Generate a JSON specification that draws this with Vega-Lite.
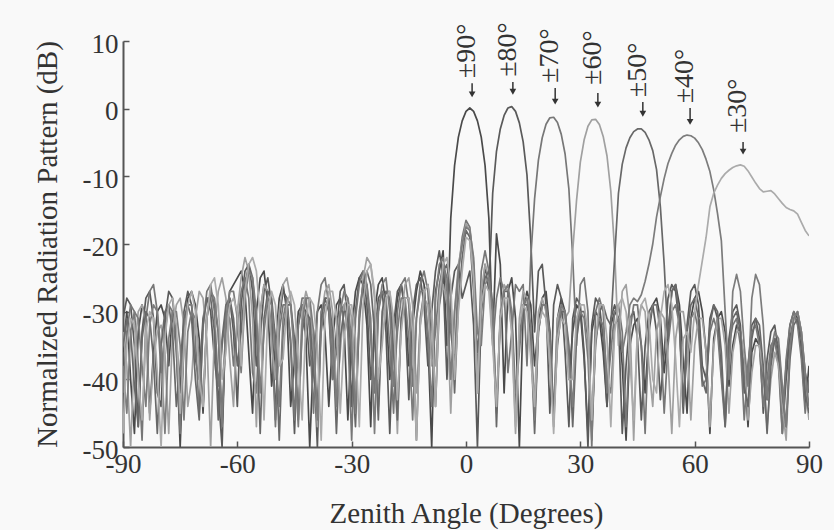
{
"$schema":"https://vega.github.io/schema/vega-lite/v6.json",
"width":686,"height":406,
"autosize":"none",
"padding":{"left":123,"top":41,"right":25,"bottom":83},
"background":"#f9f9f9",
"config":{"view":{"stroke":null},"font":"Liberation Serif, Times New Roman, DejaVu Serif, serif"},
"datasets":{
"lab":[
{"t":"±90°","x":1.6,"tx":0.3,"ty":4.5,"at":3.77,"ab":2.3,"ah":2.1},
{"t":"±80°","x":12.3,"tx":11.0,"ty":4.7,"at":3.95,"ab":2.7,"ah":2.5},
{"t":"±70°","x":23.4,"tx":22.1,"ty":3.8,"at":3.06,"ab":1.3,"ah":1.05},
{"t":"±60°","x":34.6,"tx":33.3,"ty":3.5,"at":2.32,"ab":0.8,"ah":0.6},
{"t":"±50°","x":46.4,"tx":45.1,"ty":1.7,"at":0.99,"ab":-0.5,"ah":-0.75},
{"t":"±40°","x":58.8,"tx":57.5,"ty":0.8,"at":0.1,"ab":-1.7,"ah":-1.95},
{"t":"±30°","x":72.7,"tx":71.4,"ty":-3.6,"at":-4.92,"ab":-6.1,"ah":-6.35}
],
"pat":[
{"s":"a","x":-90,"y":-36},{"s":"a","x":-89,"y":-30},{"s":"a","x":-88,"y":-40},{"s":"a","x":-87,"y":-48},{"s":"a","x":-86,"y":-33},{"s":"a","x":-85,"y":-29},{"s":"a","x":-84,"y":-31},{"s":"a","x":-83,"y":-45},{"s":"a","x":-82,"y":-36},{"s":"a","x":-81,"y":-30},
{"s":"a","x":-80,"y":-29},{"s":"a","x":-79,"y":-31},{"s":"a","x":-78,"y":-38},{"s":"a","x":-77,"y":-30},{"s":"a","x":-76,"y":-35},{"s":"a","x":-75,"y":-50},{"s":"a","x":-74,"y":-34},{"s":"a","x":-73,"y":-28},{"s":"a","x":-72,"y":-27},{"s":"a","x":-71,"y":-29},
{"s":"a","x":-70,"y":-34},{"s":"a","x":-69,"y":-45},{"s":"a","x":-68,"y":-31},{"s":"a","x":-67,"y":-27},{"s":"a","x":-66,"y":-29},{"s":"a","x":-65,"y":-33},{"s":"a","x":-64,"y":-47},{"s":"a","x":-63,"y":-32},{"s":"a","x":-62,"y":-27},{"s":"a","x":-61,"y":-26},
{"s":"a","x":-60,"y":-25},{"s":"a","x":-59,"y":-24},{"s":"a","x":-58,"y":-27},{"s":"a","x":-57,"y":-36},{"s":"a","x":-56,"y":-45},{"s":"a","x":-55,"y":-30},{"s":"a","x":-54,"y":-25},{"s":"a","x":-53,"y":-24},{"s":"a","x":-52,"y":-29},{"s":"a","x":-51,"y":-41},
{"s":"a","x":-50,"y":-35},{"s":"a","x":-49,"y":-28},{"s":"a","x":-48,"y":-26},{"s":"a","x":-47,"y":-30},{"s":"a","x":-46,"y":-44},{"s":"a","x":-45,"y":-37},{"s":"a","x":-44,"y":-30},{"s":"a","x":-43,"y":-29},{"s":"a","x":-42,"y":-34},{"s":"a","x":-41,"y":-50},
{"s":"a","x":-40,"y":-36},{"s":"a","x":-39,"y":-30},{"s":"a","x":-38,"y":-29},{"s":"a","x":-37,"y":-33},{"s":"a","x":-36,"y":-44},{"s":"a","x":-35,"y":-34},{"s":"a","x":-34,"y":-29},{"s":"a","x":-33,"y":-28},{"s":"a","x":-32,"y":-32},{"s":"a","x":-31,"y":-46},
{"s":"a","x":-30,"y":-33},{"s":"a","x":-29,"y":-27},{"s":"a","x":-28,"y":-25},{"s":"a","x":-27,"y":-26},{"s":"a","x":-26,"y":-32},{"s":"a","x":-25,"y":-47},{"s":"a","x":-24,"y":-30},{"s":"a","x":-23,"y":-26},{"s":"a","x":-22,"y":-25},{"s":"a","x":-21,"y":-29},
{"s":"a","x":-20,"y":-40},{"s":"a","x":-19,"y":-34},{"s":"a","x":-18,"y":-28},{"s":"a","x":-17,"y":-26},{"s":"a","x":-16,"y":-29},{"s":"a","x":-15,"y":-38},{"s":"a","x":-14,"y":-32},{"s":"a","x":-13,"y":-27},{"s":"a","x":-12,"y":-24},{"s":"a","x":-11,"y":-26},
{"s":"a","x":-10,"y":-34},{"s":"a","x":-9,"y":-50},{"s":"a","x":-8,"y":-27},{"s":"a","x":-7,"y":-24},{"s":"a","x":-6,"y":-21},{"s":"a","x":-5,"y":-35},{"s":"a","x":-4,"y":-16.2},{"s":"a","x":-3,"y":-8.4},{"s":"a","x":-2,"y":-4.2},{"s":"a","x":-1,"y":-1.8},
{"s":"a","x":0,"y":-0.4},{"s":"a","x":1,"y":0.1},{"s":"a","x":2,"y":-0.4},{"s":"a","x":3,"y":-1.8},{"s":"a","x":4,"y":-4.2},{"s":"a","x":5,"y":-8.4},{"s":"a","x":6,"y":-16.2},{"s":"a","x":7,"y":-34},{"s":"a","x":8,"y":-18.5},{"s":"a","x":9,"y":-23},
{"s":"a","x":10,"y":-42},{"s":"a","x":11,"y":-27},{"s":"a","x":12,"y":-25},{"s":"a","x":13,"y":-31},{"s":"a","x":14,"y":-50},{"s":"a","x":15,"y":-30},{"s":"a","x":16,"y":-27},{"s":"a","x":17,"y":-29},{"s":"a","x":18,"y":-38},{"s":"a","x":19,"y":-32},
{"s":"a","x":20,"y":-28},{"s":"a","x":21,"y":-27},{"s":"a","x":22,"y":-33},{"s":"a","x":23,"y":-46},{"s":"a","x":24,"y":-31},{"s":"a","x":25,"y":-28},{"s":"a","x":26,"y":-30},{"s":"a","x":27,"y":-40},{"s":"a","x":28,"y":-33},{"s":"a","x":29,"y":-29},
{"s":"a","x":30,"y":-30},{"s":"a","x":31,"y":-37},{"s":"a","x":32,"y":-48},{"s":"a","x":33,"y":-33},{"s":"a","x":34,"y":-30},{"s":"a","x":35,"y":-31},{"s":"a","x":36,"y":-36},{"s":"a","x":37,"y":-44},{"s":"a","x":38,"y":-32},{"s":"a","x":39,"y":-30},
{"s":"a","x":40,"y":-31},{"s":"a","x":41,"y":-38},{"s":"a","x":42,"y":-49},{"s":"a","x":43,"y":-35},{"s":"a","x":44,"y":-32},{"s":"a","x":45,"y":-31},{"s":"a","x":46,"y":-35},{"s":"a","x":47,"y":-42},{"s":"a","x":48,"y":-33},{"s":"a","x":49,"y":-29},
{"s":"a","x":50,"y":-28},{"s":"a","x":51,"y":-31},{"s":"a","x":52,"y":-39},{"s":"a","x":53,"y":-33},{"s":"a","x":54,"y":-27},{"s":"a","x":55,"y":-26},{"s":"a","x":56,"y":-29},{"s":"a","x":57,"y":-37},{"s":"a","x":58,"y":-45},{"s":"a","x":59,"y":-31},
{"s":"a","x":60,"y":-28},{"s":"a","x":61,"y":-27},{"s":"a","x":62,"y":-30},{"s":"a","x":63,"y":-36},{"s":"a","x":64,"y":-48},{"s":"a","x":65,"y":-34},{"s":"a","x":66,"y":-31},{"s":"a","x":67,"y":-30},{"s":"a","x":68,"y":-33},{"s":"a","x":69,"y":-41},
{"s":"a","x":70,"y":-35},{"s":"a","x":71,"y":-32},{"s":"a","x":72,"y":-33},{"s":"a","x":73,"y":-38},{"s":"a","x":74,"y":-47},{"s":"a","x":75,"y":-36},{"s":"a","x":76,"y":-34},{"s":"a","x":77,"y":-35},{"s":"a","x":78,"y":-40},{"s":"a","x":79,"y":-43},
{"s":"a","x":80,"y":-37},{"s":"a","x":81,"y":-34},{"s":"a","x":82,"y":-37},{"s":"a","x":83,"y":-45},{"s":"a","x":84,"y":-38},{"s":"a","x":85,"y":-32},{"s":"a","x":86,"y":-30},{"s":"a","x":87,"y":-31},{"s":"a","x":88,"y":-36},{"s":"a","x":89,"y":-44},{"s":"a","x":90,"y":-38},

{"s":"b","x":-90,"y":-31},{"s":"b","x":-89,"y":-28},{"s":"b","x":-88,"y":-29},{"s":"b","x":-87,"y":-35},{"s":"b","x":-86,"y":-47},{"s":"b","x":-85,"y":-33},{"s":"b","x":-84,"y":-28},{"s":"b","x":-83,"y":-27},{"s":"b","x":-82,"y":-31},{"s":"b","x":-81,"y":-42},
{"s":"b","x":-80,"y":-44},{"s":"b","x":-79,"y":-31},{"s":"b","x":-78,"y":-27},{"s":"b","x":-77,"y":-28},{"s":"b","x":-76,"y":-34},{"s":"b","x":-75,"y":-42},{"s":"b","x":-74,"y":-30},{"s":"b","x":-73,"y":-27},{"s":"b","x":-72,"y":-29},{"s":"b","x":-71,"y":-37},
{"s":"b","x":-70,"y":-40},{"s":"b","x":-69,"y":-31},{"s":"b","x":-68,"y":-28},{"s":"b","x":-67,"y":-30},{"s":"b","x":-66,"y":-37},{"s":"b","x":-65,"y":-42},{"s":"b","x":-64,"y":-50},{"s":"b","x":-63,"y":-30},{"s":"b","x":-62,"y":-28},{"s":"b","x":-61,"y":-33},
{"s":"b","x":-60,"y":-44},{"s":"b","x":-59,"y":-29},{"s":"b","x":-58,"y":-24},{"s":"b","x":-57,"y":-23},{"s":"b","x":-56,"y":-27},{"s":"b","x":-55,"y":-38},{"s":"b","x":-54,"y":-34},{"s":"b","x":-53,"y":-27},{"s":"b","x":-52,"y":-25},{"s":"b","x":-51,"y":-29},
{"s":"b","x":-50,"y":-46},{"s":"b","x":-49,"y":-31},{"s":"b","x":-48,"y":-27},{"s":"b","x":-47,"y":-28},{"s":"b","x":-46,"y":-35},{"s":"b","x":-45,"y":-48},{"s":"b","x":-44,"y":-32},{"s":"b","x":-43,"y":-29},{"s":"b","x":-42,"y":-30},{"s":"b","x":-41,"y":-38},
{"s":"b","x":-40,"y":-36},{"s":"b","x":-39,"y":-50},{"s":"b","x":-38,"y":-30},{"s":"b","x":-37,"y":-28},{"s":"b","x":-36,"y":-30},{"s":"b","x":-35,"y":-40},{"s":"b","x":-34,"y":-33},{"s":"b","x":-33,"y":-27},{"s":"b","x":-32,"y":-26},{"s":"b","x":-31,"y":-31},
{"s":"b","x":-30,"y":-44},{"s":"b","x":-29,"y":-30},{"s":"b","x":-28,"y":-25},{"s":"b","x":-27,"y":-24},{"s":"b","x":-26,"y":-29},{"s":"b","x":-25,"y":-40},{"s":"b","x":-24,"y":-34},{"s":"b","x":-23,"y":-28},{"s":"b","x":-22,"y":-27},{"s":"b","x":-21,"y":-33},
{"s":"b","x":-20,"y":-48},{"s":"b","x":-19,"y":-32},{"s":"b","x":-18,"y":-27},{"s":"b","x":-17,"y":-26},{"s":"b","x":-16,"y":-30},{"s":"b","x":-15,"y":-43},{"s":"b","x":-14,"y":-30},{"s":"b","x":-13,"y":-26},{"s":"b","x":-12,"y":-25},{"s":"b","x":-11,"y":-29},
{"s":"b","x":-10,"y":-38},{"s":"b","x":-9,"y":-30},{"s":"b","x":-8,"y":-24},{"s":"b","x":-7,"y":-21},{"s":"b","x":-6,"y":-25},{"s":"b","x":-5,"y":-40},{"s":"b","x":-4,"y":-28},{"s":"b","x":-3,"y":-24},{"s":"b","x":-2,"y":-23},{"s":"b","x":-1,"y":-28},
{"s":"b","x":0,"y":-26},{"s":"b","x":1,"y":-24},{"s":"b","x":2,"y":-32},{"s":"b","x":3,"y":-50},{"s":"b","x":4,"y":-30},{"s":"b","x":5,"y":-23},{"s":"b","x":6,"y":-27},{"s":"b","x":7,"y":-12.5},{"s":"b","x":8,"y":-6.3},{"s":"b","x":9,"y":-3.0},
{"s":"b","x":10,"y":-1.0},{"s":"b","x":11,"y":0.1},{"s":"b","x":12,"y":0.3},{"s":"b","x":13,"y":-0.4},{"s":"b","x":14,"y":-2.1},{"s":"b","x":15,"y":-4.9},{"s":"b","x":16,"y":-9.8},{"s":"b","x":17,"y":-19.5},{"s":"b","x":18,"y":-33},{"s":"b","x":19,"y":-24},
{"s":"b","x":20,"y":-23},{"s":"b","x":21,"y":-29},{"s":"b","x":22,"y":-45},{"s":"b","x":23,"y":-29},{"s":"b","x":24,"y":-26},{"s":"b","x":25,"y":-28},{"s":"b","x":26,"y":-36},{"s":"b","x":27,"y":-47},{"s":"b","x":28,"y":-31},{"s":"b","x":29,"y":-28},
{"s":"b","x":30,"y":-29},{"s":"b","x":31,"y":-36},{"s":"b","x":32,"y":-50},{"s":"b","x":33,"y":-32},{"s":"b","x":34,"y":-28},{"s":"b","x":35,"y":-29},{"s":"b","x":36,"y":-34},{"s":"b","x":37,"y":-44},{"s":"b","x":38,"y":-31},{"s":"b","x":39,"y":-29},
{"s":"b","x":40,"y":-31},{"s":"b","x":41,"y":-48},{"s":"b","x":42,"y":-38},{"s":"b","x":43,"y":-31},{"s":"b","x":44,"y":-30},{"s":"b","x":45,"y":-34},{"s":"b","x":46,"y":-46},{"s":"b","x":47,"y":-35},{"s":"b","x":48,"y":-30},{"s":"b","x":49,"y":-29},
{"s":"b","x":50,"y":-33},{"s":"b","x":51,"y":-43},{"s":"b","x":52,"y":-36},{"s":"b","x":53,"y":-28},{"s":"b","x":54,"y":-26},{"s":"b","x":55,"y":-27},{"s":"b","x":56,"y":-32},{"s":"b","x":57,"y":-45},{"s":"b","x":58,"y":-32},{"s":"b","x":59,"y":-27},
{"s":"b","x":60,"y":-26},{"s":"b","x":61,"y":-29},{"s":"b","x":62,"y":-38},{"s":"b","x":63,"y":-40},{"s":"b","x":64,"y":-31},{"s":"b","x":65,"y":-29},{"s":"b","x":66,"y":-31},{"s":"b","x":67,"y":-39},{"s":"b","x":68,"y":-46},{"s":"b","x":69,"y":-34},
{"s":"b","x":70,"y":-30},{"s":"b","x":71,"y":-29},{"s":"b","x":72,"y":-32},{"s":"b","x":73,"y":-42},{"s":"b","x":74,"y":-38},{"s":"b","x":75,"y":-32},{"s":"b","x":76,"y":-31},{"s":"b","x":77,"y":-34},{"s":"b","x":78,"y":-45},{"s":"b","x":79,"y":-37},
{"s":"b","x":80,"y":-33},{"s":"b","x":81,"y":-32},{"s":"b","x":82,"y":-36},{"s":"b","x":83,"y":-48},{"s":"b","x":84,"y":-40},{"s":"b","x":85,"y":-34},{"s":"b","x":86,"y":-31},{"s":"b","x":87,"y":-30},{"s":"b","x":88,"y":-33},{"s":"b","x":89,"y":-39},{"s":"b","x":90,"y":-42},

{"s":"c","x":-90,"y":-42},{"s":"c","x":-89,"y":-33},{"s":"c","x":-88,"y":-29},{"s":"c","x":-87,"y":-30},{"s":"c","x":-86,"y":-38},{"s":"c","x":-85,"y":-49},{"s":"c","x":-84,"y":-31},{"s":"c","x":-83,"y":-27},{"s":"c","x":-82,"y":-26},{"s":"c","x":-81,"y":-30},
{"s":"c","x":-80,"y":-39},{"s":"c","x":-79,"y":-33},{"s":"c","x":-78,"y":-29},{"s":"c","x":-77,"y":-30},{"s":"c","x":-76,"y":-36},{"s":"c","x":-75,"y":-48},{"s":"c","x":-74,"y":-33},{"s":"c","x":-73,"y":-29},{"s":"c","x":-72,"y":-29},{"s":"c","x":-71,"y":-34},
{"s":"c","x":-70,"y":-45},{"s":"c","x":-69,"y":-32},{"s":"c","x":-68,"y":-27},{"s":"c","x":-67,"y":-26},{"s":"c","x":-66,"y":-30},{"s":"c","x":-65,"y":-41},{"s":"c","x":-64,"y":-35},{"s":"c","x":-63,"y":-30},{"s":"c","x":-62,"y":-31},{"s":"c","x":-61,"y":-38},
{"s":"c","x":-60,"y":-33},{"s":"c","x":-59,"y":-27},{"s":"c","x":-58,"y":-25},{"s":"c","x":-57,"y":-28},{"s":"c","x":-56,"y":-39},{"s":"c","x":-55,"y":-42},{"s":"c","x":-54,"y":-30},{"s":"c","x":-53,"y":-26},{"s":"c","x":-52,"y":-27},{"s":"c","x":-51,"y":-33},
{"s":"c","x":-50,"y":-47},{"s":"c","x":-49,"y":-33},{"s":"c","x":-48,"y":-29},{"s":"c","x":-47,"y":-29},{"s":"c","x":-46,"y":-34},{"s":"c","x":-45,"y":-46},{"s":"c","x":-44,"y":-32},{"s":"c","x":-43,"y":-28},{"s":"c","x":-42,"y":-28},{"s":"c","x":-41,"y":-33},
{"s":"c","x":-40,"y":-45},{"s":"c","x":-39,"y":-30},{"s":"c","x":-38,"y":-26},{"s":"c","x":-37,"y":-25},{"s":"c","x":-36,"y":-29},{"s":"c","x":-35,"y":-40},{"s":"c","x":-34,"y":-36},{"s":"c","x":-33,"y":-30},{"s":"c","x":-32,"y":-29},{"s":"c","x":-31,"y":-33},
{"s":"c","x":-30,"y":-49},{"s":"c","x":-29,"y":-31},{"s":"c","x":-28,"y":-26},{"s":"c","x":-27,"y":-24},{"s":"c","x":-26,"y":-26},{"s":"c","x":-25,"y":-34},{"s":"c","x":-24,"y":-42},{"s":"c","x":-23,"y":-30},{"s":"c","x":-22,"y":-27},{"s":"c","x":-21,"y":-28},
{"s":"c","x":-20,"y":-35},{"s":"c","x":-19,"y":-45},{"s":"c","x":-18,"y":-30},{"s":"c","x":-17,"y":-26},{"s":"c","x":-16,"y":-25},{"s":"c","x":-15,"y":-29},{"s":"c","x":-14,"y":-41},{"s":"c","x":-13,"y":-31},{"s":"c","x":-12,"y":-26},{"s":"c","x":-11,"y":-24},
{"s":"c","x":-10,"y":-27},{"s":"c","x":-9,"y":-37},{"s":"c","x":-8,"y":-33},{"s":"c","x":-7,"y":-26},{"s":"c","x":-6,"y":-23},{"s":"c","x":-5,"y":-25},{"s":"c","x":-4,"y":-33},{"s":"c","x":-3,"y":-38},{"s":"c","x":-2,"y":-24},{"s":"c","x":-1,"y":-19},
{"s":"c","x":0,"y":-16.5},{"s":"c","x":1,"y":-17.5},{"s":"c","x":2,"y":-23},{"s":"c","x":3,"y":-40},{"s":"c","x":4,"y":-24},{"s":"c","x":5,"y":-21},{"s":"c","x":6,"y":-24},{"s":"c","x":7,"y":-35},{"s":"c","x":8,"y":-28},{"s":"c","x":9,"y":-25},
{"s":"c","x":10,"y":-27},{"s":"c","x":11,"y":-39},{"s":"c","x":12,"y":-33},{"s":"c","x":13,"y":-26},{"s":"c","x":14,"y":-27},{"s":"c","x":15,"y":-26},{"s":"c","x":16,"y":-38},{"s":"c","x":17,"y":-22},{"s":"c","x":18,"y":-13.3},{"s":"c","x":19,"y":-7.6},
{"s":"c","x":20,"y":-4.3},{"s":"c","x":21,"y":-2.3},{"s":"c","x":22,"y":-1.35},{"s":"c","x":23,"y":-1.27},{"s":"c","x":24,"y":-2.05},{"s":"c","x":25,"y":-3.8},{"s":"c","x":26,"y":-6.7},{"s":"c","x":27,"y":-11.9},{"s":"c","x":28,"y":-22},{"s":"c","x":29,"y":-35},
{"s":"c","x":30,"y":-26},{"s":"c","x":31,"y":-25},{"s":"c","x":32,"y":-30},{"s":"c","x":33,"y":-50},{"s":"c","x":34,"y":-30},{"s":"c","x":35,"y":-28},{"s":"c","x":36,"y":-30},{"s":"c","x":37,"y":-42},{"s":"c","x":38,"y":-36},{"s":"c","x":39,"y":-30},
{"s":"c","x":40,"y":-29},{"s":"c","x":41,"y":-33},{"s":"c","x":42,"y":-47},{"s":"c","x":43,"y":-33},{"s":"c","x":44,"y":-29},{"s":"c","x":45,"y":-29},{"s":"c","x":46,"y":-35},{"s":"c","x":47,"y":-48},{"s":"c","x":48,"y":-32},{"s":"c","x":49,"y":-29},
{"s":"c","x":50,"y":-29},{"s":"c","x":51,"y":-33},{"s":"c","x":52,"y":-45},{"s":"c","x":53,"y":-35},{"s":"c","x":54,"y":-30},{"s":"c","x":55,"y":-29},{"s":"c","x":56,"y":-32},{"s":"c","x":57,"y":-43},{"s":"c","x":58,"y":-37},{"s":"c","x":59,"y":-31},
{"s":"c","x":60,"y":-30},{"s":"c","x":61,"y":-33},{"s":"c","x":62,"y":-41},{"s":"c","x":63,"y":-40},{"s":"c","x":64,"y":-33},{"s":"c","x":65,"y":-31},{"s":"c","x":66,"y":-33},{"s":"c","x":67,"y":-40},{"s":"c","x":68,"y":-47},{"s":"c","x":69,"y":-35},
{"s":"c","x":70,"y":-32},{"s":"c","x":71,"y":-31},{"s":"c","x":72,"y":-35},{"s":"c","x":73,"y":-46},{"s":"c","x":74,"y":-38},{"s":"c","x":75,"y":-33},{"s":"c","x":76,"y":-32},{"s":"c","x":77,"y":-35},{"s":"c","x":78,"y":-44},{"s":"c","x":79,"y":-40},
{"s":"c","x":80,"y":-35},{"s":"c","x":81,"y":-34},{"s":"c","x":82,"y":-38},{"s":"c","x":83,"y":-48},{"s":"c","x":84,"y":-37},{"s":"c","x":85,"y":-32},{"s":"c","x":86,"y":-30},{"s":"c","x":87,"y":-32},{"s":"c","x":88,"y":-37},{"s":"c","x":89,"y":-45},{"s":"c","x":90,"y":-40},

{"s":"d","x":-90,"y":-33},{"s":"d","x":-89,"y":-38},{"s":"d","x":-88,"y":-50},{"s":"d","x":-87,"y":-36},{"s":"d","x":-86,"y":-30},{"s":"d","x":-85,"y":-29},{"s":"d","x":-84,"y":-32},{"s":"d","x":-83,"y":-46},{"s":"d","x":-82,"y":-37},{"s":"d","x":-81,"y":-33},
{"s":"d","x":-80,"y":-32},{"s":"d","x":-79,"y":-36},{"s":"d","x":-78,"y":-48},{"s":"d","x":-77,"y":-33},{"s":"d","x":-76,"y":-29},{"s":"d","x":-75,"y":-28},{"s":"d","x":-74,"y":-32},{"s":"d","x":-73,"y":-44},{"s":"d","x":-72,"y":-40},{"s":"d","x":-71,"y":-31},
{"s":"d","x":-70,"y":-27},{"s":"d","x":-69,"y":-28},{"s":"d","x":-68,"y":-34},{"s":"d","x":-67,"y":-50},{"s":"d","x":-66,"y":-33},{"s":"d","x":-65,"y":-27},{"s":"d","x":-64,"y":-25},{"s":"d","x":-63,"y":-28},{"s":"d","x":-62,"y":-37},{"s":"d","x":-61,"y":-44},
{"s":"d","x":-60,"y":-30},{"s":"d","x":-59,"y":-25},{"s":"d","x":-58,"y":-22},{"s":"d","x":-57,"y":-24},{"s":"d","x":-56,"y":-31},{"s":"d","x":-55,"y":-47},{"s":"d","x":-54,"y":-30},{"s":"d","x":-53,"y":-26},{"s":"d","x":-52,"y":-27},{"s":"d","x":-51,"y":-35},
{"s":"d","x":-50,"y":-40},{"s":"d","x":-49,"y":-30},{"s":"d","x":-48,"y":-26},{"s":"d","x":-47,"y":-25},{"s":"d","x":-46,"y":-28},{"s":"d","x":-45,"y":-38},{"s":"d","x":-44,"y":-44},{"s":"d","x":-43,"y":-30},{"s":"d","x":-42,"y":-27},{"s":"d","x":-41,"y":-29},
{"s":"d","x":-40,"y":-36},{"s":"d","x":-39,"y":-47},{"s":"d","x":-38,"y":-31},{"s":"d","x":-37,"y":-27},{"s":"d","x":-36,"y":-26},{"s":"d","x":-35,"y":-30},{"s":"d","x":-34,"y":-42},{"s":"d","x":-33,"y":-36},{"s":"d","x":-32,"y":-29},{"s":"d","x":-31,"y":-28},
{"s":"d","x":-30,"y":-31},{"s":"d","x":-29,"y":-43},{"s":"d","x":-28,"y":-32},{"s":"d","x":-27,"y":-25},{"s":"d","x":-26,"y":-22},{"s":"d","x":-25,"y":-23},{"s":"d","x":-24,"y":-28},{"s":"d","x":-23,"y":-44},{"s":"d","x":-22,"y":-31},{"s":"d","x":-21,"y":-27},
{"s":"d","x":-20,"y":-27},{"s":"d","x":-19,"y":-33},{"s":"d","x":-18,"y":-48},{"s":"d","x":-17,"y":-31},{"s":"d","x":-16,"y":-26},{"s":"d","x":-15,"y":-25},{"s":"d","x":-14,"y":-29},{"s":"d","x":-13,"y":-42},{"s":"d","x":-12,"y":-32},{"s":"d","x":-11,"y":-28},
{"s":"d","x":-10,"y":-29},{"s":"d","x":-9,"y":-38},{"s":"d","x":-8,"y":-38},{"s":"d","x":-7,"y":-29},{"s":"d","x":-6,"y":-26},{"s":"d","x":-5,"y":-29},{"s":"d","x":-4,"y":-45},{"s":"d","x":-3,"y":-30},{"s":"d","x":-2,"y":-23},{"s":"d","x":-1,"y":-20},
{"s":"d","x":0,"y":-17},{"s":"d","x":1,"y":-18},{"s":"d","x":2,"y":-24},{"s":"d","x":3,"y":-42},{"s":"d","x":4,"y":-27},{"s":"d","x":5,"y":-23},{"s":"d","x":6,"y":-25},{"s":"d","x":7,"y":-33},{"s":"d","x":8,"y":-45},{"s":"d","x":9,"y":-30},
{"s":"d","x":10,"y":-26},{"s":"d","x":11,"y":-27},{"s":"d","x":12,"y":-33},{"s":"d","x":13,"y":-48},{"s":"d","x":14,"y":-31},{"s":"d","x":15,"y":-27},{"s":"d","x":16,"y":-28},{"s":"d","x":17,"y":-36},{"s":"d","x":18,"y":-43},{"s":"d","x":19,"y":-30},
{"s":"d","x":20,"y":-28},{"s":"d","x":21,"y":-30},{"s":"d","x":22,"y":-38},{"s":"d","x":23,"y":-45},{"s":"d","x":24,"y":-31},{"s":"d","x":25,"y":-29},{"s":"d","x":26,"y":-31},{"s":"d","x":27,"y":-30},{"s":"d","x":28,"y":-21},{"s":"d","x":29,"y":-13.6},
{"s":"d","x":30,"y":-7.9},{"s":"d","x":31,"y":-4.6},{"s":"d","x":32,"y":-2.6},{"s":"d","x":33,"y":-1.65},{"s":"d","x":34,"y":-1.57},{"s":"d","x":35,"y":-2.35},{"s":"d","x":36,"y":-4.1},{"s":"d","x":37,"y":-7.0},{"s":"d","x":38,"y":-12.2},{"s":"d","x":39,"y":-21},
{"s":"d","x":40,"y":-35},{"s":"d","x":41,"y":-27},{"s":"d","x":42,"y":-26},{"s":"d","x":43,"y":-31},{"s":"d","x":44,"y":-49},{"s":"d","x":45,"y":-32},{"s":"d","x":46,"y":-29},{"s":"d","x":47,"y":-30},{"s":"d","x":48,"y":-38},{"s":"d","x":49,"y":-44},
{"s":"d","x":50,"y":-33},{"s":"d","x":51,"y":-30},{"s":"d","x":52,"y":-31},{"s":"d","x":53,"y":-37},{"s":"d","x":54,"y":-48},{"s":"d","x":55,"y":-34},{"s":"d","x":56,"y":-30},{"s":"d","x":57,"y":-30},{"s":"d","x":58,"y":-34},{"s":"d","x":59,"y":-46},
{"s":"d","x":60,"y":-35},{"s":"d","x":61,"y":-31},{"s":"d","x":62,"y":-31},{"s":"d","x":63,"y":-36},{"s":"d","x":64,"y":-47},{"s":"d","x":65,"y":-35},{"s":"d","x":66,"y":-31},{"s":"d","x":67,"y":-31},{"s":"d","x":68,"y":-35},{"s":"d","x":69,"y":-45},
{"s":"d","x":70,"y":-36},{"s":"d","x":71,"y":-33},{"s":"d","x":72,"y":-33},{"s":"d","x":73,"y":-37},{"s":"d","x":74,"y":-46},{"s":"d","x":75,"y":-39},{"s":"d","x":76,"y":-35},{"s":"d","x":77,"y":-35},{"s":"d","x":78,"y":-39},{"s":"d","x":79,"y":-47},
{"s":"d","x":80,"y":-40},{"s":"d","x":81,"y":-36},{"s":"d","x":82,"y":-38},{"s":"d","x":83,"y":-44},{"s":"d","x":84,"y":-49},{"s":"d","x":85,"y":-36},{"s":"d","x":86,"y":-31},{"s":"d","x":87,"y":-30},{"s":"d","x":88,"y":-33},{"s":"d","x":89,"y":-41},{"s":"d","x":90,"y":-46},

{"s":"e","x":-90,"y":-35},{"s":"e","x":-89,"y":-31},{"s":"e","x":-88,"y":-33},{"s":"e","x":-87,"y":-41},{"s":"e","x":-86,"y":-47},{"s":"e","x":-85,"y":-34},{"s":"e","x":-84,"y":-30},{"s":"e","x":-83,"y":-31},{"s":"e","x":-82,"y":-37},{"s":"e","x":-81,"y":-48},
{"s":"e","x":-80,"y":-35},{"s":"e","x":-79,"y":-30},{"s":"e","x":-78,"y":-29},{"s":"e","x":-77,"y":-33},{"s":"e","x":-76,"y":-44},{"s":"e","x":-75,"y":-38},{"s":"e","x":-74,"y":-31},{"s":"e","x":-73,"y":-29},{"s":"e","x":-72,"y":-31},{"s":"e","x":-71,"y":-40},
{"s":"e","x":-70,"y":-46},{"s":"e","x":-69,"y":-32},{"s":"e","x":-68,"y":-28},{"s":"e","x":-67,"y":-28},{"s":"e","x":-66,"y":-33},{"s":"e","x":-65,"y":-46},{"s":"e","x":-64,"y":-34},{"s":"e","x":-63,"y":-29},{"s":"e","x":-62,"y":-28},{"s":"e","x":-61,"y":-31},
{"s":"e","x":-60,"y":-38},{"s":"e","x":-59,"y":-33},{"s":"e","x":-58,"y":-26},{"s":"e","x":-57,"y":-23},{"s":"e","x":-56,"y":-25},{"s":"e","x":-55,"y":-32},{"s":"e","x":-54,"y":-48},{"s":"e","x":-53,"y":-31},{"s":"e","x":-52,"y":-27},{"s":"e","x":-51,"y":-28},
{"s":"e","x":-50,"y":-34},{"s":"e","x":-49,"y":-49},{"s":"e","x":-48,"y":-33},{"s":"e","x":-47,"y":-29},{"s":"e","x":-46,"y":-29},{"s":"e","x":-45,"y":-34},{"s":"e","x":-44,"y":-46},{"s":"e","x":-43,"y":-33},{"s":"e","x":-42,"y":-30},{"s":"e","x":-41,"y":-31},
{"s":"e","x":-40,"y":-39},{"s":"e","x":-39,"y":-44},{"s":"e","x":-38,"y":-31},{"s":"e","x":-37,"y":-28},{"s":"e","x":-36,"y":-28},{"s":"e","x":-35,"y":-33},{"s":"e","x":-34,"y":-48},{"s":"e","x":-33,"y":-34},{"s":"e","x":-32,"y":-30},{"s":"e","x":-31,"y":-30},
{"s":"e","x":-30,"y":-37},{"s":"e","x":-29,"y":-47},{"s":"e","x":-28,"y":-31},{"s":"e","x":-27,"y":-26},{"s":"e","x":-26,"y":-24},{"s":"e","x":-25,"y":-26},{"s":"e","x":-24,"y":-33},{"s":"e","x":-23,"y":-46},{"s":"e","x":-22,"y":-30},{"s":"e","x":-21,"y":-27},
{"s":"e","x":-20,"y":-28},{"s":"e","x":-19,"y":-36},{"s":"e","x":-18,"y":-46},{"s":"e","x":-17,"y":-31},{"s":"e","x":-16,"y":-28},{"s":"e","x":-15,"y":-28},{"s":"e","x":-14,"y":-34},{"s":"e","x":-13,"y":-49},{"s":"e","x":-12,"y":-31},{"s":"e","x":-11,"y":-27},
{"s":"e","x":-10,"y":-26},{"s":"e","x":-9,"y":-31},{"s":"e","x":-8,"y":-44},{"s":"e","x":-7,"y":-29},{"s":"e","x":-6,"y":-24},{"s":"e","x":-5,"y":-23},{"s":"e","x":-4,"y":-28},{"s":"e","x":-3,"y":-42},{"s":"e","x":-2,"y":-29},{"s":"e","x":-1,"y":-22},
{"s":"e","x":0,"y":-18},{"s":"e","x":1,"y":-19},{"s":"e","x":2,"y":-27},{"s":"e","x":3,"y":-36},{"s":"e","x":4,"y":-30},{"s":"e","x":5,"y":-25},{"s":"e","x":6,"y":-24},{"s":"e","x":7,"y":-29},{"s":"e","x":8,"y":-47},{"s":"e","x":9,"y":-31},
{"s":"e","x":10,"y":-27},{"s":"e","x":11,"y":-27},{"s":"e","x":12,"y":-31},{"s":"e","x":13,"y":-44},{"s":"e","x":14,"y":-34},{"s":"e","x":15,"y":-29},{"s":"e","x":16,"y":-29},{"s":"e","x":17,"y":-34},{"s":"e","x":18,"y":-48},{"s":"e","x":19,"y":-33},
{"s":"e","x":20,"y":-29},{"s":"e","x":21,"y":-29},{"s":"e","x":22,"y":-33},{"s":"e","x":23,"y":-45},{"s":"e","x":24,"y":-35},{"s":"e","x":25,"y":-30},{"s":"e","x":26,"y":-30},{"s":"e","x":27,"y":-35},{"s":"e","x":28,"y":-47},{"s":"e","x":29,"y":-34},
{"s":"e","x":30,"y":-30},{"s":"e","x":31,"y":-30},{"s":"e","x":32,"y":-34},{"s":"e","x":33,"y":-47},{"s":"e","x":34,"y":-35},{"s":"e","x":35,"y":-30},{"s":"e","x":36,"y":-29},{"s":"e","x":37,"y":-31},{"s":"e","x":38,"y":-32},{"s":"e","x":39,"y":-22},
{"s":"e","x":40,"y":-12.5},{"s":"e","x":41,"y":-8.2},{"s":"e","x":42,"y":-5.8},{"s":"e","x":43,"y":-4.3},{"s":"e","x":44,"y":-3.4},{"s":"e","x":45,"y":-3.0},{"s":"e","x":46,"y":-3.0},{"s":"e","x":47,"y":-3.5},{"s":"e","x":48,"y":-4.6},{"s":"e","x":49,"y":-6.2},
{"s":"e","x":50,"y":-9},{"s":"e","x":51,"y":-14.5},{"s":"e","x":52,"y":-23},{"s":"e","x":53,"y":-34},{"s":"e","x":54,"y":-27},{"s":"e","x":55,"y":-26},{"s":"e","x":56,"y":-31},{"s":"e","x":57,"y":-44},{"s":"e","x":58,"y":-33},{"s":"e","x":59,"y":-29},
{"s":"e","x":60,"y":-28},{"s":"e","x":61,"y":-31},{"s":"e","x":62,"y":-40},{"s":"e","x":63,"y":-42},{"s":"e","x":64,"y":-32},{"s":"e","x":65,"y":-29},{"s":"e","x":66,"y":-30},{"s":"e","x":67,"y":-36},{"s":"e","x":68,"y":-47},{"s":"e","x":69,"y":-35},
{"s":"e","x":70,"y":-31},{"s":"e","x":71,"y":-30},{"s":"e","x":72,"y":-33},{"s":"e","x":73,"y":-41},{"s":"e","x":74,"y":-44},{"s":"e","x":75,"y":-34},{"s":"e","x":76,"y":-31},{"s":"e","x":77,"y":-32},{"s":"e","x":78,"y":-38},{"s":"e","x":79,"y":-48},
{"s":"e","x":80,"y":-38},{"s":"e","x":81,"y":-34},{"s":"e","x":82,"y":-35},{"s":"e","x":83,"y":-42},{"s":"e","x":84,"y":-47},{"s":"e","x":85,"y":-37},{"s":"e","x":86,"y":-32},{"s":"e","x":87,"y":-31},{"s":"e","x":88,"y":-34},{"s":"e","x":89,"y":-42},{"s":"e","x":90,"y":-45},

{"s":"f","x":-90,"y":-38},{"s":"f","x":-89,"y":-45},{"s":"f","x":-88,"y":-33},{"s":"f","x":-87,"y":-30},{"s":"f","x":-86,"y":-31},{"s":"f","x":-85,"y":-38},{"s":"f","x":-84,"y":-44},{"s":"f","x":-83,"y":-32},{"s":"f","x":-82,"y":-29},{"s":"f","x":-81,"y":-30},
{"s":"f","x":-80,"y":-36},{"s":"f","x":-79,"y":-48},{"s":"f","x":-78,"y":-34},{"s":"f","x":-77,"y":-30},{"s":"f","x":-76,"y":-30},{"s":"f","x":-75,"y":-35},{"s":"f","x":-74,"y":-46},{"s":"f","x":-73,"y":-33},{"s":"f","x":-72,"y":-30},{"s":"f","x":-71,"y":-31},
{"s":"f","x":-70,"y":-37},{"s":"f","x":-69,"y":-44},{"s":"f","x":-68,"y":-31},{"s":"f","x":-67,"y":-27},{"s":"f","x":-66,"y":-28},{"s":"f","x":-65,"y":-33},{"s":"f","x":-64,"y":-47},{"s":"f","x":-63,"y":-31},{"s":"f","x":-62,"y":-27},{"s":"f","x":-61,"y":-27},
{"s":"f","x":-60,"y":-31},{"s":"f","x":-59,"y":-39},{"s":"f","x":-58,"y":-28},{"s":"f","x":-57,"y":-24},{"s":"f","x":-56,"y":-25},{"s":"f","x":-55,"y":-30},{"s":"f","x":-54,"y":-42},{"s":"f","x":-53,"y":-33},{"s":"f","x":-52,"y":-28},{"s":"f","x":-51,"y":-29},
{"s":"f","x":-50,"y":-36},{"s":"f","x":-49,"y":-44},{"s":"f","x":-48,"y":-31},{"s":"f","x":-47,"y":-28},{"s":"f","x":-46,"y":-29},{"s":"f","x":-45,"y":-36},{"s":"f","x":-44,"y":-47},{"s":"f","x":-43,"y":-32},{"s":"f","x":-42,"y":-28},{"s":"f","x":-41,"y":-28},
{"s":"f","x":-40,"y":-33},{"s":"f","x":-39,"y":-46},{"s":"f","x":-38,"y":-33},{"s":"f","x":-37,"y":-29},{"s":"f","x":-36,"y":-29},{"s":"f","x":-35,"y":-35},{"s":"f","x":-34,"y":-44},{"s":"f","x":-33,"y":-30},{"s":"f","x":-32,"y":-27},{"s":"f","x":-31,"y":-28},
{"s":"f","x":-30,"y":-35},{"s":"f","x":-29,"y":-45},{"s":"f","x":-28,"y":-30},{"s":"f","x":-27,"y":-26},{"s":"f","x":-26,"y":-26},{"s":"f","x":-25,"y":-31},{"s":"f","x":-24,"y":-48},{"s":"f","x":-23,"y":-30},{"s":"f","x":-22,"y":-26},{"s":"f","x":-21,"y":-25},
{"s":"f","x":-20,"y":-30},{"s":"f","x":-19,"y":-41},{"s":"f","x":-18,"y":-33},{"s":"f","x":-17,"y":-28},{"s":"f","x":-16,"y":-28},{"s":"f","x":-15,"y":-34},{"s":"f","x":-14,"y":-46},{"s":"f","x":-13,"y":-31},{"s":"f","x":-12,"y":-27},{"s":"f","x":-11,"y":-27},
{"s":"f","x":-10,"y":-33},{"s":"f","x":-9,"y":-44},{"s":"f","x":-8,"y":-28},{"s":"f","x":-7,"y":-23},{"s":"f","x":-6,"y":-22},{"s":"f","x":-5,"y":-27},{"s":"f","x":-4,"y":-40},{"s":"f","x":-3,"y":-30},{"s":"f","x":-2,"y":-24},{"s":"f","x":-1,"y":-20},
{"s":"f","x":0,"y":-17.5},{"s":"f","x":1,"y":-18},{"s":"f","x":2,"y":-22},{"s":"f","x":3,"y":-33},{"s":"f","x":4,"y":-35},{"s":"f","x":5,"y":-26},{"s":"f","x":6,"y":-25},{"s":"f","x":7,"y":-30},{"s":"f","x":8,"y":-44},{"s":"f","x":9,"y":-31},
{"s":"f","x":10,"y":-27},{"s":"f","x":11,"y":-26},{"s":"f","x":12,"y":-30},{"s":"f","x":13,"y":-42},{"s":"f","x":14,"y":-36},{"s":"f","x":15,"y":-29},{"s":"f","x":16,"y":-28},{"s":"f","x":17,"y":-32},{"s":"f","x":18,"y":-46},{"s":"f","x":19,"y":-33},
{"s":"f","x":20,"y":-29},{"s":"f","x":21,"y":-29},{"s":"f","x":22,"y":-34},{"s":"f","x":23,"y":-47},{"s":"f","x":24,"y":-33},{"s":"f","x":25,"y":-29},{"s":"f","x":26,"y":-30},{"s":"f","x":27,"y":-37},{"s":"f","x":28,"y":-44},{"s":"f","x":29,"y":-32},
{"s":"f","x":30,"y":-30},{"s":"f","x":31,"y":-31},{"s":"f","x":32,"y":-37},{"s":"f","x":33,"y":-49},{"s":"f","x":34,"y":-34},{"s":"f","x":35,"y":-31},{"s":"f","x":36,"y":-32},{"s":"f","x":37,"y":-40},{"s":"f","x":38,"y":-42},{"s":"f","x":39,"y":-32},
{"s":"f","x":40,"y":-31},{"s":"f","x":41,"y":-36},{"s":"f","x":42,"y":-33},{"s":"f","x":43,"y":-29},{"s":"f","x":44,"y":-28},{"s":"f","x":45,"y":-28.5},{"s":"f","x":46,"y":-27.5},{"s":"f","x":47,"y":-25.5},{"s":"f","x":48,"y":-23},{"s":"f","x":49,"y":-20},
{"s":"f","x":50,"y":-16},{"s":"f","x":51,"y":-13},{"s":"f","x":52,"y":-10.3},{"s":"f","x":53,"y":-8.1},{"s":"f","x":54,"y":-6.6},{"s":"f","x":55,"y":-5.4},{"s":"f","x":56,"y":-4.6},{"s":"f","x":57,"y":-4.1},{"s":"f","x":58,"y":-3.9},{"s":"f","x":59,"y":-4.0},
{"s":"f","x":60,"y":-4.35},{"s":"f","x":61,"y":-5.05},{"s":"f","x":62,"y":-6.05},{"s":"f","x":63,"y":-7.5},{"s":"f","x":64,"y":-9.3},{"s":"f","x":65,"y":-12},{"s":"f","x":66,"y":-15.5},{"s":"f","x":67,"y":-19.5},{"s":"f","x":68,"y":-30},{"s":"f","x":69,"y":-40},
{"s":"f","x":70,"y":-27},{"s":"f","x":71,"y":-24.5},{"s":"f","x":72,"y":-27},{"s":"f","x":73,"y":-35},{"s":"f","x":74,"y":-41},{"s":"f","x":75,"y":-28},{"s":"f","x":76,"y":-24.5},{"s":"f","x":77,"y":-26},{"s":"f","x":78,"y":-32},{"s":"f","x":79,"y":-43},
{"s":"f","x":80,"y":-36},{"s":"f","x":81,"y":-33},{"s":"f","x":82,"y":-34},{"s":"f","x":83,"y":-41},{"s":"f","x":84,"y":-47},{"s":"f","x":85,"y":-35},{"s":"f","x":86,"y":-31},{"s":"f","x":87,"y":-30},{"s":"f","x":88,"y":-33},{"s":"f","x":89,"y":-39},{"s":"f","x":90,"y":-44},

{"s":"g","x":-90,"y":-48},{"s":"g","x":-89,"y":-35},{"s":"g","x":-88,"y":-31},{"s":"g","x":-87,"y":-32},{"s":"g","x":-86,"y":-40},{"s":"g","x":-85,"y":-46},{"s":"g","x":-84,"y":-33},{"s":"g","x":-83,"y":-30},{"s":"g","x":-82,"y":-31},{"s":"g","x":-81,"y":-39},
{"s":"g","x":-80,"y":-50},{"s":"g","x":-79,"y":-34},{"s":"g","x":-78,"y":-29},{"s":"g","x":-77,"y":-28},{"s":"g","x":-76,"y":-32},{"s":"g","x":-75,"y":-45},{"s":"g","x":-74,"y":-35},{"s":"g","x":-73,"y":-29},{"s":"g","x":-72,"y":-27},{"s":"g","x":-71,"y":-30},
{"s":"g","x":-70,"y":-40},{"s":"g","x":-69,"y":-44},{"s":"g","x":-68,"y":-31},{"s":"g","x":-67,"y":-26},{"s":"g","x":-66,"y":-25},{"s":"g","x":-65,"y":-29},{"s":"g","x":-64,"y":-40},{"s":"g","x":-63,"y":-36},{"s":"g","x":-62,"y":-29},{"s":"g","x":-61,"y":-28},
{"s":"g","x":-60,"y":-30},{"s":"g","x":-59,"y":-38},{"s":"g","x":-58,"y":-27},{"s":"g","x":-57,"y":-23},{"s":"g","x":-56,"y":-22},{"s":"g","x":-55,"y":-24},{"s":"g","x":-54,"y":-31},{"s":"g","x":-53,"y":-46},{"s":"g","x":-52,"y":-30},{"s":"g","x":-51,"y":-27},
{"s":"g","x":-50,"y":-29},{"s":"g","x":-49,"y":-38},{"s":"g","x":-48,"y":-37},{"s":"g","x":-47,"y":-29},{"s":"g","x":-46,"y":-27},{"s":"g","x":-45,"y":-29},{"s":"g","x":-44,"y":-37},{"s":"g","x":-43,"y":-46},{"s":"g","x":-42,"y":-31},{"s":"g","x":-41,"y":-28},
{"s":"g","x":-40,"y":-29},{"s":"g","x":-39,"y":-35},{"s":"g","x":-38,"y":-49},{"s":"g","x":-37,"y":-31},{"s":"g","x":-36,"y":-27},{"s":"g","x":-35,"y":-27},{"s":"g","x":-34,"y":-31},{"s":"g","x":-33,"y":-45},{"s":"g","x":-32,"y":-34},{"s":"g","x":-31,"y":-29},
{"s":"g","x":-30,"y":-29},{"s":"g","x":-29,"y":-34},{"s":"g","x":-28,"y":-47},{"s":"g","x":-27,"y":-29},{"s":"g","x":-26,"y":-24},{"s":"g","x":-25,"y":-23},{"s":"g","x":-24,"y":-27},{"s":"g","x":-23,"y":-40},{"s":"g","x":-22,"y":-35},{"s":"g","x":-21,"y":-28},
{"s":"g","x":-20,"y":-27},{"s":"g","x":-19,"y":-31},{"s":"g","x":-18,"y":-43},{"s":"g","x":-17,"y":-33},{"s":"g","x":-16,"y":-28},{"s":"g","x":-15,"y":-28},{"s":"g","x":-14,"y":-33},{"s":"g","x":-13,"y":-49},{"s":"g","x":-12,"y":-32},{"s":"g","x":-11,"y":-27},
{"s":"g","x":-10,"y":-26},{"s":"g","x":-9,"y":-30},{"s":"g","x":-8,"y":-44},{"s":"g","x":-7,"y":-28},{"s":"g","x":-6,"y":-23},{"s":"g","x":-5,"y":-22},{"s":"g","x":-4,"y":-26},{"s":"g","x":-3,"y":-40},{"s":"g","x":-2,"y":-30},{"s":"g","x":-1,"y":-24},
{"s":"g","x":0,"y":-19},{"s":"g","x":1,"y":-19.5},{"s":"g","x":2,"y":-25},{"s":"g","x":3,"y":-42},{"s":"g","x":4,"y":-29},{"s":"g","x":5,"y":-26},{"s":"g","x":6,"y":-27},{"s":"g","x":7,"y":-35},{"s":"g","x":8,"y":-44},{"s":"g","x":9,"y":-31},
{"s":"g","x":10,"y":-28},{"s":"g","x":11,"y":-28},{"s":"g","x":12,"y":-33},{"s":"g","x":13,"y":-47},{"s":"g","x":14,"y":-32},{"s":"g","x":15,"y":-29},{"s":"g","x":16,"y":-30},{"s":"g","x":17,"y":-37},{"s":"g","x":18,"y":-44},{"s":"g","x":19,"y":-32},
{"s":"g","x":20,"y":-30},{"s":"g","x":21,"y":-31},{"s":"g","x":22,"y":-37},{"s":"g","x":23,"y":-48},{"s":"g","x":24,"y":-34},{"s":"g","x":25,"y":-31},{"s":"g","x":26,"y":-32},{"s":"g","x":27,"y":-40},{"s":"g","x":28,"y":-40},{"s":"g","x":29,"y":-31},
{"s":"g","x":30,"y":-29},{"s":"g","x":31,"y":-29},{"s":"g","x":32,"y":-33},{"s":"g","x":33,"y":-46},{"s":"g","x":34,"y":-34},{"s":"g","x":35,"y":-29},{"s":"g","x":36,"y":-29},{"s":"g","x":37,"y":-34},{"s":"g","x":38,"y":-47},{"s":"g","x":39,"y":-33},
{"s":"g","x":40,"y":-29},{"s":"g","x":41,"y":-28},{"s":"g","x":42,"y":-30},{"s":"g","x":43,"y":-37},{"s":"g","x":44,"y":-46},{"s":"g","x":45,"y":-33},{"s":"g","x":46,"y":-29},{"s":"g","x":47,"y":-28},{"s":"g","x":48,"y":-31},{"s":"g","x":49,"y":-40},
{"s":"g","x":50,"y":-42},{"s":"g","x":51,"y":-31},{"s":"g","x":52,"y":-27},{"s":"g","x":53,"y":-26},{"s":"g","x":54,"y":-29},{"s":"g","x":55,"y":-37},{"s":"g","x":56,"y":-47},{"s":"g","x":57,"y":-34},{"s":"g","x":58,"y":-33},{"s":"g","x":59,"y":-36},
{"s":"g","x":60,"y":-30},{"s":"g","x":61,"y":-26},{"s":"g","x":62,"y":-22.5},{"s":"g","x":63,"y":-19},{"s":"g","x":64,"y":-14.5},{"s":"g","x":65,"y":-12.5},{"s":"g","x":66,"y":-11.3},{"s":"g","x":67,"y":-10.3},{"s":"g","x":68,"y":-9.6},{"s":"g","x":69,"y":-9.1},
{"s":"g","x":70,"y":-8.7},{"s":"g","x":71,"y":-8.45},{"s":"g","x":72,"y":-8.3},{"s":"g","x":73,"y":-8.5},{"s":"g","x":74,"y":-9.2},{"s":"g","x":75,"y":-10.1},{"s":"g","x":76,"y":-11.0},{"s":"g","x":77,"y":-11.8},{"s":"g","x":78,"y":-12.3},{"s":"g","x":79,"y":-12.2},
{"s":"g","x":80,"y":-12.1},{"s":"g","x":81,"y":-12.6},{"s":"g","x":82,"y":-13.3},{"s":"g","x":83,"y":-14.0},{"s":"g","x":84,"y":-14.6},{"s":"g","x":85,"y":-14.9},{"s":"g","x":86,"y":-15.1},{"s":"g","x":87,"y":-15.6},{"s":"g","x":88,"y":-16.8},{"s":"g","x":89,"y":-18.0},{"s":"g","x":90,"y":-18.8}
]},
"layer":[
{"data":{"name":"pat"},
 "mark":{"type":"line","strokeWidth":1.7,"strokeJoin":"round","clip":true},
 "encoding":{
  "x":{"field":"x","type":"quantitative","scale":{"domain":[-90,90],"nice":false},
   "axis":{"values":[-90,-60,-30,0,30,60,90],"labelExpr":"''+datum.value","labelFlush":false,"labelFont":"Liberation Serif, Times New Roman, DejaVu Serif, serif","labelFontSize":27,"labelColor":"#333","labelPadding":10,"tickSize":-6,"tickColor":"#555","tickWidth":1.5,"domainColor":"#555","domainWidth":2,"grid":false,
   "title":"Zenith Angle (Degrees)","titleFont":"Liberation Serif, Times New Roman, DejaVu Serif, serif","titleFontSize":29,"titleFontWeight":"normal","titleColor":"#333","titlePadding":22}},
  "y":{"field":"y","type":"quantitative","scale":{"domain":[-50,10],"nice":false},
   "axis":{"values":[-50,-40,-30,-20,-10,0,10],"labelExpr":"''+datum.value","labelFlush":false,"labelFont":"Liberation Serif, Times New Roman, DejaVu Serif, serif","labelFontSize":27,"labelColor":"#333","labelPadding":11,"labelOffset":3,"tickSize":-6,"tickColor":"#555","tickWidth":1.5,"domainColor":"#555","domainWidth":2,"grid":false,
   "title":"Normalized Radiation Pattern (dB)","titleFont":"Liberation Serif, Times New Roman, DejaVu Serif, serif","titleFontSize":29,"titleFontWeight":"normal","titleColor":"#333","titlePadding":20}},
  "color":{"field":"s","type":"nominal","scale":{"domain":["a","b","c","d","e","f","g"],"range":["#4a4a4a","#5a5a5a","#777777","#a0a0a0","#686868","#7c7c7c","#ababab"]},"legend":null},
  "order":{"field":"x","type":"quantitative"}
 }},
{"data":{"name":"lab"},
 "mark":{"type":"text","angle":270,"align":"left","baseline":"middle","fontSize":28,"font":"Liberation Serif, Times New Roman, DejaVu Serif, serif","color":"#333"},
 "encoding":{"x":{"field":"tx","type":"quantitative"},"y":{"field":"ty","type":"quantitative"},"text":{"field":"t"}}},
{"data":{"name":"lab"},
 "mark":{"type":"rule","strokeWidth":1.5,"color":"#333"},
 "encoding":{"x":{"field":"x","type":"quantitative"},"y":{"field":"at","type":"quantitative"},"y2":{"field":"ab"}}},
{"data":{"name":"lab"},
 "mark":{"type":"point","shape":"triangle-down","filled":true,"size":45,"opacity":1,"color":"#333"},
 "encoding":{"x":{"field":"x","type":"quantitative"},"y":{"field":"ah","type":"quantitative"}}}
]
}
